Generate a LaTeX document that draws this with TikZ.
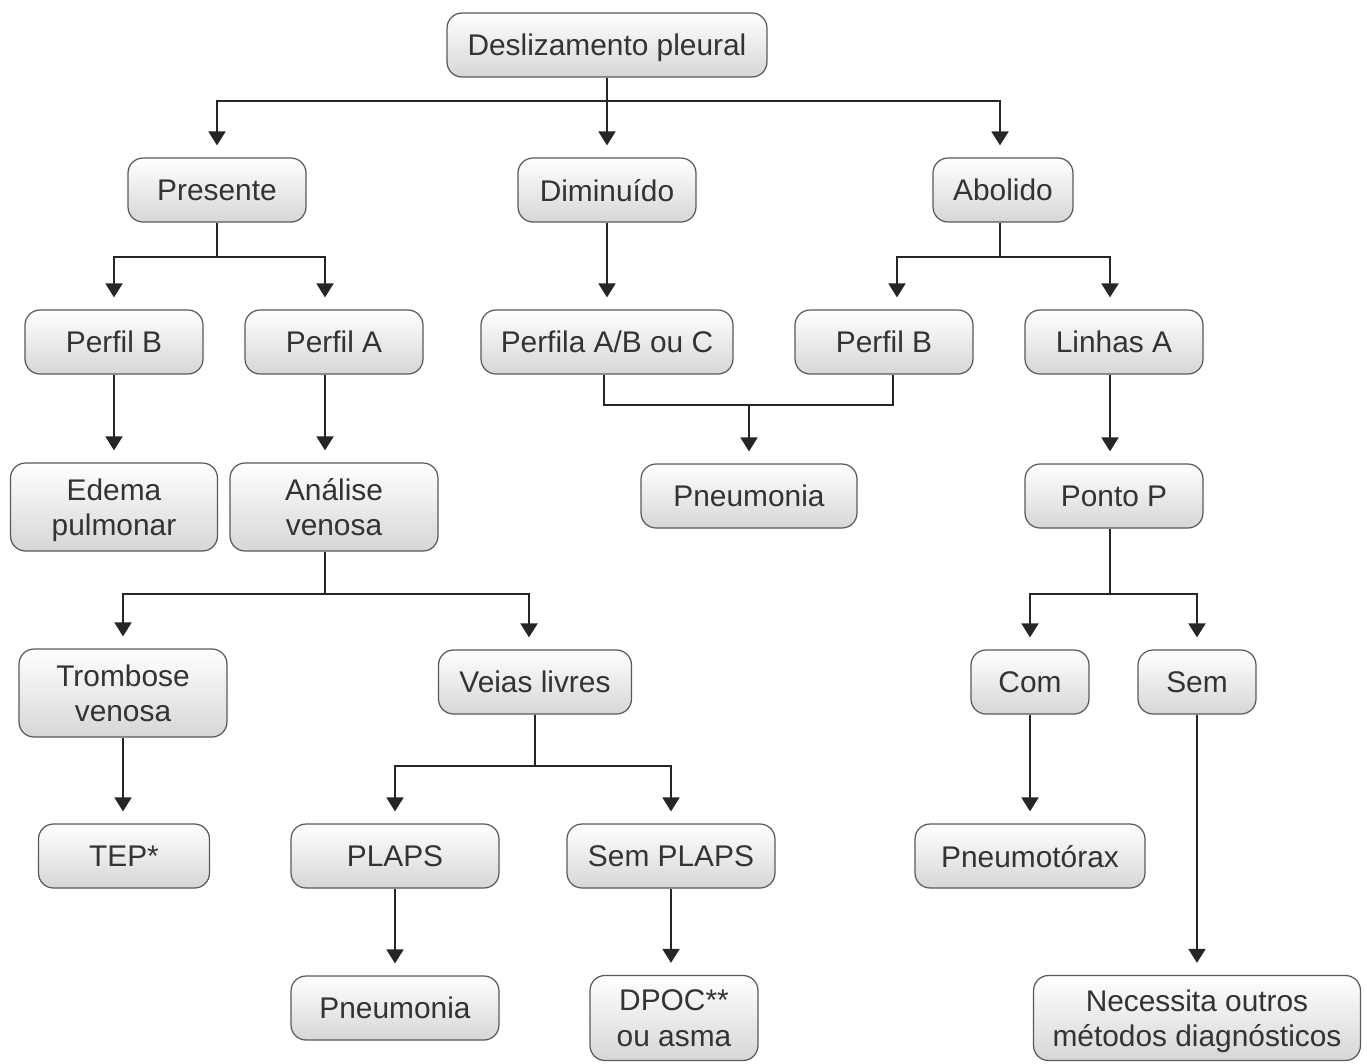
\documentclass[tikz,border=0pt]{standalone}
\usepackage{fontspec}
\setmainfont{Liberation Sans}
\usetikzlibrary{arrows.meta}
\begin{document}
\begin{tikzpicture}
  [x=0.02cm,y=-0.02cm,
   box/.style={draw=black!65,line width=0.7pt,rounded corners=0.3cm,top color=white,bottom color=black!16,
     text=black!80,font=\fontsize{17}{20}\selectfont,align=center,minimum height=1.28cm,inner sep=2pt,text depth=0pt},
   tall/.style={minimum height=1.76cm},
   link/.style={line width=1.1pt,draw=black!85},
   arr/.style={link,-{Triangle[width=0.34cm,length=0.28cm]},shorten >=0.24cm}]
  \useasboundingbox (0,0) rectangle (1367,1063);
  % first level
  \node[box,minimum width=6.4cm,name=dp] at (607,45) {Deslizamento pleural};
  \node[box,minimum width=3.56cm,name=pr] at (217,190) {Presente};
  \node[box,minimum width=3.56cm,name=di] at (607,190) {Diminuído};
  \node[box,minimum width=2.8cm,name=ab] at (1003,190) {Abolido};
  % profiles
  \node[box,minimum width=3.56cm,name=pb1] at (114,342) {Perfil B};
  \node[box,minimum width=3.56cm,name=pa] at (334,342) {Perfil A};
  \node[box,minimum width=5.04cm,name=pf] at (607,342) {Perfila A/B ou C};
  \node[box,minimum width=3.56cm,name=pb2] at (884,342) {Perfil B};
  \node[box,minimum width=3.56cm,name=ln] at (1114,342) {Linhas A};
  \node[box,tall,minimum width=4.14cm,name=ed] at (114,507) {Edema\\pulmonar};
  \node[box,tall,minimum width=4.16cm,name=an] at (334,507) {Análise\\venosa};
  \node[box,minimum width=4.32cm,name=pn1] at (749,496) {Pneumonia};
  \node[box,minimum width=3.56cm,name=pp] at (1114,496) {Ponto P};
  % veins and lung point
  \node[box,tall,minimum width=4.16cm,name=tv] at (123,693) {Trombose\\venosa};
  \node[box,minimum width=3.86cm,name=vl] at (535,682) {Veias livres};
  \node[box,minimum width=2.36cm,name=com] at (1030,682) {Com};
  \node[box,minimum width=2.36cm,name=sem] at (1197,682) {Sem};
  \node[box,minimum width=3.42cm,name=tep] at (124,856) {TEP*};
  \node[box,minimum width=4.16cm,name=pl] at (395,856) {PLAPS};
  \node[box,minimum width=4.16cm,name=sp] at (671,856) {Sem PLAPS};
  \node[box,minimum width=4.6cm,name=pt] at (1030,856) {Pneumotórax};
  \node[box,minimum width=4.16cm,name=pn2] at (395,1008) {Pneumonia};
  \node[box,minimum width=3.36cm,minimum height=1.7cm,name=dc] at (674,1018) {DPOC**\\ou asma};
  \node[box,minimum width=6.54cm,minimum height=1.7cm,name=ne] at (1197,1018) {Necessita outros\\métodos diagnósticos};
  \coordinate (mj) at (749,405);
  % connectors
  \draw[arr] (dp.south) -- ++(0,23) -| (pr.north);
  \draw[arr] (dp.south) -- ++(0,23) -| ([xshift=-0.06cm]ab.north);
  \draw[arr] (dp.south) -- (di.north);
  \draw[arr] (pr.south) -- ++(0,34) -| (pb1.north);
  \draw[arr] (pr.south) -- ++(0,34) -| ([xshift=-0.18cm]pa.north);
  \draw[arr] (di.south) -- (pf.north);
  \draw[arr] ([xshift=-0.06cm]ab.south) -- ++(0,34) -| ([xshift=0.26cm]pb2.north);
  \draw[arr] ([xshift=-0.06cm]ab.south) -- ++(0,34) -| ([xshift=-0.08cm]ln.north);
  \draw[arr] (pb1.south) -- (ed.north);
  \draw[arr] ([xshift=-0.18cm]pa.south) -- ([xshift=-0.18cm]an.north);
  \draw[link] ([xshift=-0.06cm]pf.south) |- (mj) -| ([xshift=0.18cm]pb2.south);
  \draw[arr] (mj) -- (pn1.north);
  \draw[arr] ([xshift=-0.08cm]ln.south) -- ([xshift=-0.08cm]pp.north);
  \draw[arr] ([xshift=-0.18cm]an.south) -- ++(0,42) -| (tv.north);
  \draw[arr] ([xshift=-0.18cm]an.south) -- ++(0,42) -| ([xshift=-0.12cm]vl.north);
  \draw[arr] ([xshift=-0.08cm]pp.south) -- ++(0,65) -| (com.north);
  \draw[arr] ([xshift=-0.08cm]pp.south) -- ++(0,65) -| (sem.north);
  \draw[arr] (tv.south) -- (tv.south |- tep.north);
  \draw[arr] (vl.south) -- ++(0,51) -| (pl.north);
  \draw[arr] (vl.south) -- ++(0,51) -| (sp.north);
  \draw[arr] (com.south) -- (pt.north);
  \draw[arr] (sem.south) -- (ne.north);
  \draw[arr] (pl.south) -- (pn2.north);
  \draw[arr] (sp.south) -- (sp.south |- dc.north);
\end{tikzpicture}
\end{document}
